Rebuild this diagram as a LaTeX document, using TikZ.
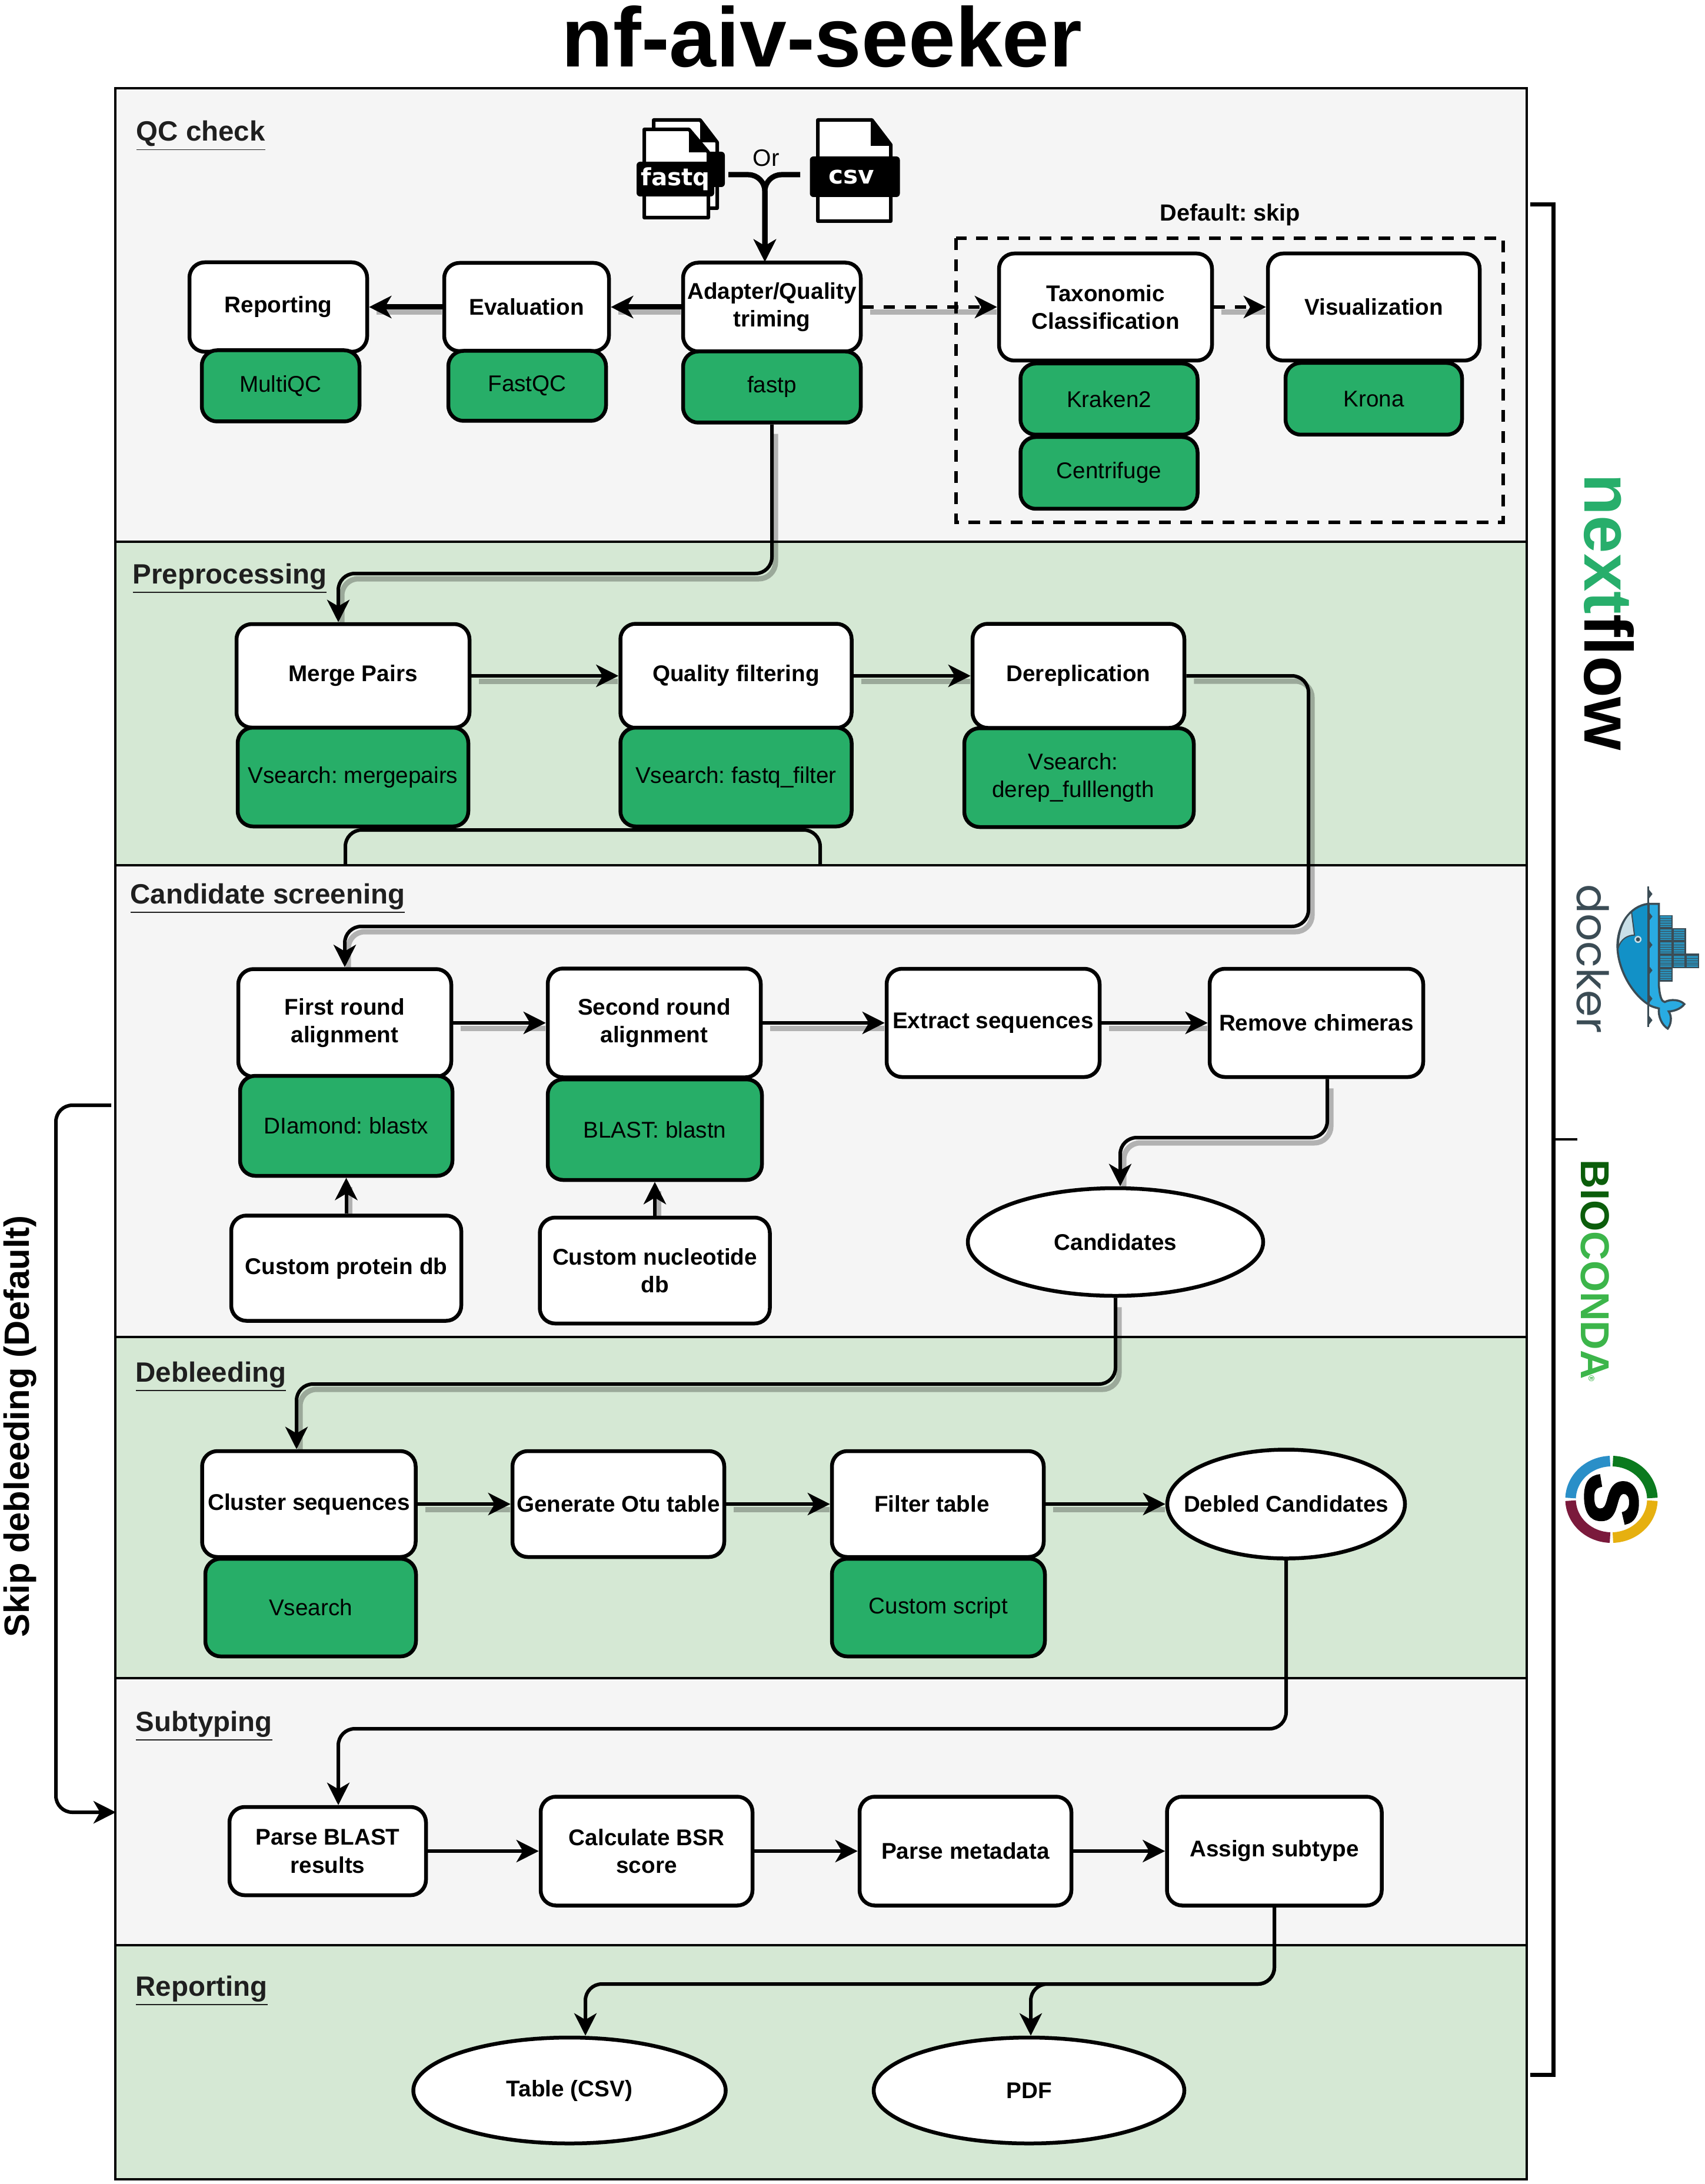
\documentclass[tikz,border=0pt]{standalone}
\usepackage{fontspec}
\setmainfont{Liberation Sans}
\newfontfamily\iconfont{DejaVu Sans}
\newfontfamily\dockerfont{Poppins}
\newfontfamily\snakefont[BoldItalicFeatures={FakeBold=3}]{Liberation Sans}
\usetikzlibrary{arrows.meta,shapes.geometric}
\frenchspacing
\definecolor{panelgrey}{HTML}{F5F5F5}
\definecolor{panelgreen}{HTML}{D5E8D4}
\definecolor{toolgreen}{HTML}{27AE68}
\definecolor{labelink}{HTML}{1F1F1F}
\definecolor{dockerink}{HTML}{3B4C55}
\definecolor{whaledark}{HTML}{1291C7}
\definecolor{whalelight}{HTML}{29ABE2}
\definecolor{whalepale}{HTML}{C9E0E8}
\definecolor{cellblue}{HTML}{2A8FB8}
\definecolor{nfgreen}{HTML}{27AE6B}
\definecolor{biodark}{HTML}{0B5D0B}
\definecolor{biolight}{HTML}{3CB54A}
\definecolor{ringblue}{HTML}{2A8FC8}
\definecolor{ringgreen}{HTML}{0B7A1E}
\definecolor{ringmaroon}{HTML}{7B1A3C}
\definecolor{ringyellow}{HTML}{E6B010}
\tikzset{
  >/.tip={Stealth[length=0.38cm,width=0.38cm,inset=0.11cm]},
  panel/.style={draw=black,line width=0.04cm},
  task/.style n args={2}{draw=black,fill=white,line width=0.065cm,rounded corners=0.26cm,
    inner sep=0pt,align=center,minimum width=#1cm,minimum height=#2cm,
    font=\fontsize{11}{13.5}\selectfont\bfseries},
  tool/.style n args={2}{task={#1}{#2},fill=toolgreen,font=\fontsize{11}{13.5}\selectfont},
  outcome/.style n args={2}{ellipse,draw=black,fill=white,line width=0.065cm,inner sep=0pt,
    minimum width=#1cm,minimum height=#2cm,font=\fontsize{11}{13.5}\selectfont\bfseries},
  stage/.style={anchor=base west,inner sep=0pt,text=labelink,font=\fontsize{13.5}{16}\selectfont\bfseries},
  flow/.style={draw=black,line width=0.06cm,rounded corners=0.28cm,->},
  shadowed/.style={preaction={draw=black,draw opacity=0.27,line width=0.09cm,-,
    shorten <=0.07cm,shorten >=0.07cm,
    transform canvas={xshift=0.06cm,yshift=-0.09cm}}},
  heavy/.style={line width=0.09cm},
  optional/.style={dash pattern=on 0.19cm off 0.17cm},
  pagesheet/.style={draw=black,fill=white,line width=0.06cm,line join=round},
  pagelabel/.style={fill=black,text=white,rounded corners=0.06cm,inner sep=0pt,
    font=\iconfont\fontsize{11.5}{13}\selectfont\bfseries},
  bracket/.style={draw=black,line width=0.07cm},
  ringpart/.style={line width=0.18cm},
}

\begin{document}
\begin{tikzpicture}
\useasboundingbox (0,0) rectangle (28.97,-37.13);

\node[inner sep=0pt,font=\fontsize{40.8}{48}\selectfont\bfseries] (title) at (13.97,-0.62) {nf-aiv-seeker};

% panels
\draw[panel,fill=panelgrey]  (1.96,-1.50)  rectangle (25.95,-9.21);
\draw[panel,fill=panelgreen] (1.96,-9.21)  rectangle (25.95,-14.71);
\draw[panel,fill=panelgrey]  (1.96,-14.71) rectangle (25.95,-22.73);
\draw[panel,fill=panelgreen] (1.96,-22.73) rectangle (25.95,-28.53);
\draw[panel,fill=panelgrey]  (1.96,-28.53) rectangle (25.95,-33.07);
\draw[panel,fill=panelgreen] (1.96,-33.07) rectangle (25.95,-37.05);

\node[stage] (qclabel)   at (2.31,-2.40)  {\underline{QC check}};
\node[stage] (prelabel)  at (2.25,-9.92)  {\underline{Preprocessing}};
\node[stage] (candlabel) at (2.21,-15.36) {\underline{Candidate screening}};
\node[stage] (bleedlabel) at (2.30,-23.49) {\underline{Debleeding}};
\node[stage] (sublabel)  at (2.30,-29.43) {\underline{Subtyping}};
\node[stage] (replabel)  at (2.30,-33.93) {\underline{Reporting}};

% input files
\draw[pagesheet] (11.11,-2.04) -- (11.90,-2.04) -- (12.19,-2.42) -- (12.19,-3.54) -- (11.11,-3.54) -- cycle;
\fill (11.90,-2.04) -- (12.19,-2.42) -- (11.90,-2.42) -- cycle;
\fill[rounded corners=0.06cm] (11.50,-2.58) rectangle (12.32,-3.18);
\draw[pagesheet] (10.95,-2.20) -- (11.71,-2.20) -- (12.04,-2.59) -- (12.04,-3.70) -- (10.95,-3.70) -- cycle;
\fill (11.71,-2.20) -- (12.04,-2.59) -- (11.71,-2.59) -- cycle;
\node[pagelabel,minimum width=1.32cm,minimum height=0.59cm] (fastq) at (11.48,-3.045) {fastq};
\draw[pagesheet] (13.90,-2.04) -- (14.82,-2.04) -- (15.14,-2.46) -- (15.14,-3.76) -- (13.90,-3.76) -- cycle;
\fill (14.80,-2.04) -- (15.14,-2.48) -- (14.80,-2.48) -- cycle;
\node[pagelabel,minimum width=1.53cm,minimum height=0.69cm,font=\iconfont\fontsize{12}{13}\selectfont\bfseries] (csv) at (14.53,-3.005) {csv\hspace*{0.12cm}};
\node[inner sep=0pt,font=\fontsize{11.5}{14}\selectfont] (orlabel) at (13.02,-2.69) {Or};
\coordinate (fastqout) at (12.38,-2.97);
\coordinate (csvout) at (13.60,-2.97);
\coordinate (adapterin) at (13.00,-4.45);

% qc check
\node[task={3.02}{1.52}] (reporting) at (4.73,-5.22) {Reporting};
\node[tool={2.68}{1.21}] (multiqc) at (4.77,-6.56) {MultiQC};
\node[task={2.80}{1.50}] (evaluation) at (8.95,-5.22) {Evaluation};
\node[tool={2.68}{1.19}] (fastqc) at (8.96,-6.56) {FastQC};
\node[task={3.02}{1.51}] (adapter) at (13.12,-5.22) {Adapter/Quality\\triming};
\node[tool={3.02}{1.21}] (fastp) at (13.12,-6.58) {fastp};
\node[inner sep=0pt,font=\fontsize{11.3}{14}\selectfont\bfseries] (skiplabel) at (20.91,-3.65) {Default: skip};
\draw[line width=0.06cm,dash pattern=on 0.2cm off 0.16cm] (16.25,-4.05) rectangle (25.55,-8.88);
\node[task={3.62}{1.82}] (taxonomic) at (18.79,-5.22) {Taxonomic\\Classification};
\node[tool={3.01}{1.21}] (kraken) at (18.85,-6.785) {Kraken2};
\node[tool={3.01}{1.22}] (centrifuge) at (18.85,-8.04) {Centrifuge};
\node[task={3.60}{1.82}] (visual) at (23.35,-5.22) {Visualization};
\node[tool={3.00}{1.22}] (krona) at (23.35,-6.78) {Krona};

% preprocessing
\node[task={3.96}{1.76}] (merge) at (6.00,-11.49) {Merge Pairs};
\node[tool={3.92}{1.68}] (mergetool) at (6.00,-13.21) {Vsearch: mergepairs};
\node[task={3.93}{1.77}] (quality) at (12.51,-11.49) {Quality filtering};
\node[tool={3.93}{1.68}] (qualitytool) at (12.51,-13.21) {Vsearch: fastq\_filter};
\node[task={3.60}{1.77}] (derep) at (18.33,-11.49) {Dereplication};
\node[tool={3.90}{1.68}] (dereptool) at (18.34,-13.22) {Vsearch:\hspace*{0.2cm}\\derep\_fulllength\hspace*{0.2cm}};
\coordinate (strayleft) at (5.87,-14.71);
\coordinate (straytop) at (9.90,-14.11);
\coordinate (strayright) at (13.94,-14.71);

% candidate screening
\node[task={3.62}{1.83}] (first) at (5.86,-17.39) {First round\\alignment};
\node[tool={3.61}{1.70}] (diamond) at (5.885,-19.14) {DIamond: blastx};
\node[task={3.62}{1.85}] (second) at (11.12,-17.39) {Second round\\alignment};
\node[tool={3.64}{1.71}] (blast) at (11.13,-19.205) {BLAST: blastn};
\node[task={3.62}{1.84}] (extract) at (16.88,-17.39) {Extract sequences};
\node[task={3.63}{1.84}] (chimeras) at (22.375,-17.39) {Remove chimeras};
\node[task={3.91}{1.79}] (proteindb) at (5.885,-21.56) {Custom protein db};
\node[task={3.91}{1.80}] (nucleotidedb) at (11.13,-21.60) {Custom nucleotide\\db};
\node[outcome={5.02}{1.83}] (candidates) at (18.96,-21.115) {Candidates};

% debleeding
\node[task={3.63}{1.80}] (cluster) at (5.25,-25.57) {Cluster sequences};
\node[tool={3.58}{1.66}] (clustertool) at (5.28,-27.33) {Vsearch};
\node[task={3.60}{1.80}] (otu) at (10.51,-25.57) {Generate Otu table};
\node[task={3.60}{1.80}] (filter) at (15.94,-25.57) {Filter table\hspace*{0.2cm}};
\node[tool={3.62}{1.66}] (filtertool) at (15.95,-27.33) {Custom script};
\node[outcome={4.04}{1.85},inner xsep=-0.36cm] (debled) at (21.86,-25.57) {Debled Candidates};

% subtyping
\node[task={3.34}{1.50}] (parseblast) at (5.57,-31.47) {Parse BLAST\\results};
\node[task={3.60}{1.85}] (bsr) at (10.99,-31.47) {Calculate BSR\\score};
\node[task={3.60}{1.85}] (metadata) at (16.41,-31.47) {Parse metadata};
\node[task={3.65}{1.85}] (subtype) at (21.66,-31.47) {Assign subtype};

% reporting
\node[outcome={5.31}{1.80}] (table) at (9.68,-35.54) {Table (CSV)};
\node[outcome={5.28}{1.80}] (pdf) at (17.49,-35.54) {PDF};

% connectors
\draw[flow,heavy] (fastqout) -| (adapterin);
\draw[flow,heavy] (csvout) -| (adapterin);
\draw[flow,heavy,shadowed] (adapter) -- (evaluation);
\draw[flow,heavy,shadowed] (evaluation) -- (reporting);
\draw[flow,optional,shadowed] (adapter) -- (taxonomic);
\draw[flow,optional,shadowed] (taxonomic) -- (visual);
\coordinate (fastpbend) at (13.12,-9.75);
\draw[flow,shadowed] (fastp.south) -- (fastpbend) -| ([xshift=-0.25cm]merge.north);
\draw[flow,shadowed] (merge) -- (quality);
\draw[flow,shadowed] (quality) -- (derep);
\draw[draw=black,line width=0.06cm,rounded corners=0.28cm] (strayleft) |- (straytop) -| (strayright);
\coordinate (derepbend) at (22.24,-15.75);
\draw[flow,shadowed] (derep.east) -| (derepbend) -| (first.north);
\draw[flow,shadowed] (first) -- (second);
\draw[flow,shadowed] (second) -- (extract);
\draw[flow,shadowed] (extract) -- (chimeras);
\draw[flow,shadowed] (proteindb) -- (diamond);
\draw[flow,shadowed] (nucleotidedb) -- (blast);
\coordinate (chimerabend) at (22.56,-19.34);
\draw[flow,shadowed] ([xshift=0.185cm]chimeras.south) -- (chimerabend) -| ([xshift=0.08cm]candidates.north);
\coordinate (candbend) at (18.96,-23.53);
\draw[flow,shadowed] (candidates.south) -- (candbend) -| ([xshift=-0.21cm]cluster.north);
\draw[flow,shadowed] (cluster) -- (otu);
\draw[flow,shadowed] (otu) -- (filter);
\draw[flow,shadowed] (filter) -- (debled);
\coordinate (debledbend) at (21.86,-29.39);
\draw[flow] (debled.south) -- (debledbend) -| ([xshift=0.18cm]parseblast.north);
\draw[flow] (parseblast) -- (bsr);
\draw[flow] (bsr) -- (metadata);
\draw[flow] (metadata) -- (subtype);
\coordinate (subtypebend) at (21.66,-33.73);
\draw[flow] (subtype.south) -- (subtypebend) -| ([xshift=0.27cm]table.north);
\draw[flow] (subtype.south) -- (subtypebend) -| ([xshift=0.03cm]pdf.north);

% skip debleeding
\coordinate (skipstart) at (1.89,-18.79);
\coordinate (skipcorner) at (0.95,-18.79);
\coordinate (skipend) at (1.97,-30.81);
\draw[flow] (skipstart) -- (skipcorner) |- (skipend);
\node[rotate=90,anchor=base,inner sep=0pt,font=\fontsize{17}{20}\selectfont\bfseries] (skipnote) at (0.49,-24.25) {Skip debleeding (Default)};

% right bracket
\coordinate (brtop) at (26.01,-3.48);
\coordinate (brbottom) at (26.01,-35.27);
\coordinate (brjoin) at (26.40,-19.37);
\coordinate (brtick) at (26.81,-19.37);
\draw[bracket] (brtop) -| (brjoin) |- (brbottom);
\draw[draw=black,line width=0.045cm] (brjoin) -- (brtick);

% logos
\node[rotate=-90,anchor=base west,inner sep=0pt,font=\fontsize{33}{36}\selectfont\bfseries] (nextflow) at (26.93,-8.05) {\textcolor{nfgreen}{next}flow};
\node[rotate=-90,anchor=base west,inner sep=0pt,text=dockerink,font=\dockerfont\fontsize{21}{24}\selectfont] (docker) at (26.80,-15.03) {docker};
\node[rotate=-90,anchor=base west,inner sep=0pt,font=\fontsize{19.5}{22}\selectfont\bfseries] (bioconda) at (26.87,-19.71) {\textcolor{biodark}{BIO}\textcolor{biolight}{CONDA\kern-0.06cm\raisebox{0.13cm}{\fontsize{4}{4}\selectfont ®}}};
\begin{scope}[shift={(26.60,-14.80)},x=0.00333cm,y=-0.00333cm]
  \fill[dockerink] (483,228) rectangle (550,568);
  \fill[dockerink] (550,296) rectangle (618,500);
  \fill[dockerink] (618,425) rectangle (686,500);
  \foreach \cx/\cy in {487/232,487/300,487/368,487/436,487/504,555/300,555/368,555/436,623/436}
  {
    \fill[cellblue] (\cx,\cy) rectangle ++(56,56);
    \foreach \k in {12,24,36,48}
    {
      \draw[dockerink,line width=0.01cm] (\cx,\cy+\k) -- ++(56,0);
    }
  }
  \draw[dockerink,fill=whalelight,line width=0.035cm] (427,170) -- (480,170) -- (480,590)
    .. controls (485,650) and (495,670) .. (510,672)
    .. controls (540,655) and (590,660) .. (610,683)
    .. controls (590,710) and (550,720) .. (530,720)
    .. controls (550,750) and (540,790) .. (525,808)
    .. controls (495,790) and (475,745) .. (480,705)
    .. controls (460,700) and (440,695) .. (427,685) -- cycle;
  \draw[dockerink,fill=whaledark,line width=0.035cm] (427,170)
    .. controls (330,180) and (268,280) .. (268,385)
    .. controls (268,500) and (340,630) .. (427,685) -- cycle;
  \draw[dockerink,fill=whalepale,line width=0.02cm] (340,212)
    .. controls (295,250) and (272,320) .. (272,395)
    .. controls (285,350) and (320,330) .. (355,330) -- cycle;
  \draw[dockerink,line width=0.03cm] (425,80) -- (425,800);
  \foreach \t in {120,235,380,510,655,765}
  {
    \fill[dockerink] (425,\t-28) -- (447,\t) -- (425,\t+28) -- cycle;
  }
  \fill[whalepale] (373,352) circle (0.06cm);
  \fill[dockerink] (373,352) circle (0.035cm);
\end{scope}
\coordinate (ringcentre) at (27.39,-25.49);
\draw[ringpart,ringblue] (ringcentre) +(178:0.695 and 0.65) arc [start angle=178,end angle=92,x radius=0.695,y radius=0.65];
\draw[ringpart,ringgreen] (ringcentre) +(88:0.695 and 0.65) arc [start angle=88,end angle=2,x radius=0.695,y radius=0.65];
\draw[ringpart,ringyellow] (ringcentre) +(-2:0.695 and 0.65) arc [start angle=-2,end angle=-88,x radius=0.695,y radius=0.65];
\draw[ringpart,ringmaroon] (ringcentre) +(-92:0.695 and 0.65) arc [start angle=-92,end angle=-178,x radius=0.695,y radius=0.65];
\node[rotate=-90,inner sep=0pt,font=\snakefont\fontsize{36}{40}\selectfont\bfseries\itshape] (snake) at (27.39,-25.49) {S};
\end{tikzpicture}
\end{document}
